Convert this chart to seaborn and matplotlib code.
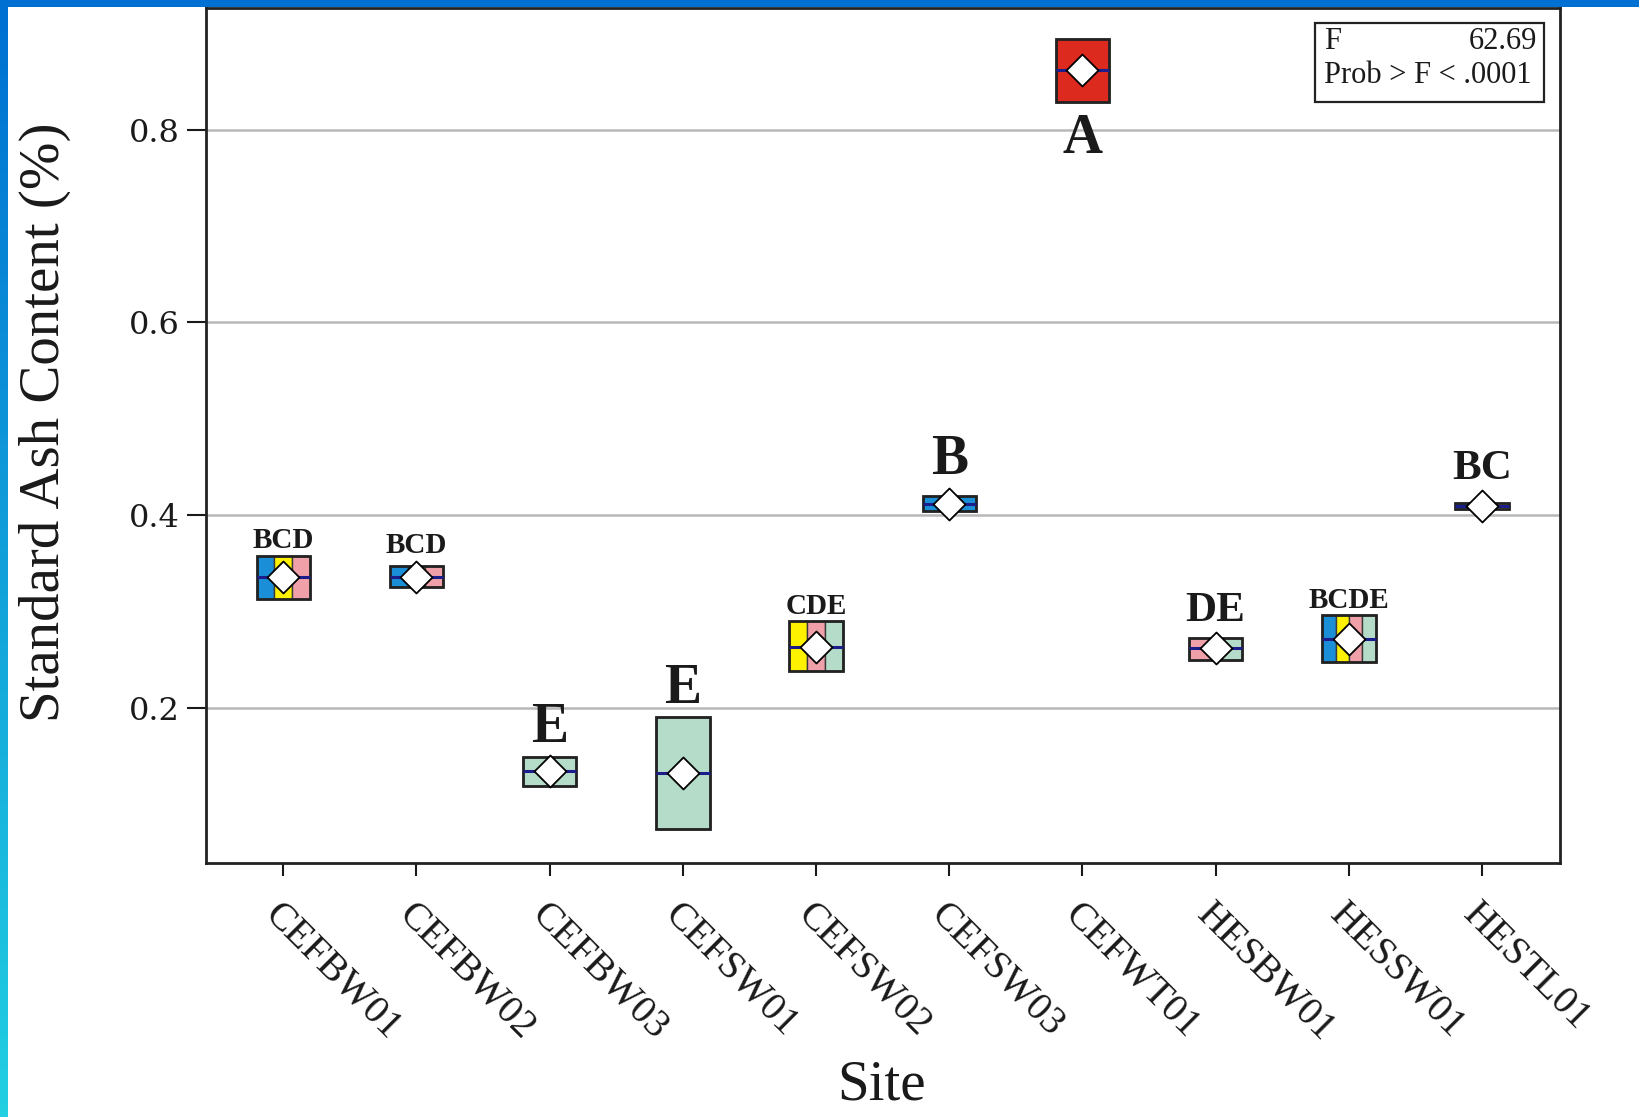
import numpy as np
import pandas as pd
import matplotlib
matplotlib.use("Agg")
import matplotlib.pyplot as plt
import seaborn as sns
from matplotlib.patches import Rectangle
from matplotlib.colors import LinearSegmentedColormap

# ---------------- data ----------------
sites = ["CEFBW01", "CEFBW02", "CEFBW03", "CEFSW01", "CEFSW02",
         "CEFSW03", "CEFWT01", "HESBW01", "HESSW01", "HESTL01"]
means = [0.336, 0.336, 0.134, 0.132, 0.263, 0.412, 0.862, 0.262, 0.272, 0.410]
upper = [0.358, 0.347, 0.149, 0.191, 0.290, 0.4195, 0.894, 0.273, 0.296, 0.413]
lower = [0.313, 0.325, 0.119, 0.074, 0.238, 0.404, 0.829, 0.250, 0.248, 0.4065]
groups = ["BCD", "BCD", "E", "E", "CDE", "B", "A", "DE", "BCDE", "BC"]
yticks = [0.2, 0.4, 0.6, 0.8]
f_label = "F"
f_value = "62.69"
prob_text = "Prob > F < .0001"
x_title = "Site"
y_title = "Standard Ash Content (%)"

group_colors = {"A": "#DC2A1E", "B": "#1A8ED6", "C": "#FFF200",
                "D": "#F0A0A8", "E": "#B4DCC8"}

df = pd.DataFrame({"site": sites, "pos": np.arange(len(sites)),
                   "mean": means, "lo": lower, "hi": upper, "grp": groups})

# ---------------- style ----------------
sns.set_theme(style="white")
plt.rcParams["font.family"] = ["Liberation Serif", "DejaVu Serif"]

W, H, DPI = 1640, 1117, 100
fig = plt.figure(figsize=(W / DPI, H / DPI), dpi=DPI)
fig.patch.set_facecolor("white")
ax = fig.add_axes([206 / W, 1 - 863 / H, (1560 - 206) / W, (863 - 8.4) / H])

ylim = (0.039, 0.926)
ax.set_xlim(-0.58, 9.585)
ax.set_ylim(*ylim)

box_w = 0.40
for _, r in df.iterrows():
    letters = list(r["grp"])
    n = len(letters)
    sw = box_w / n
    for k, L in enumerate(letters):
        ax.bar(r["pos"] - box_w / 2 + k * sw, r["hi"] - r["lo"], bottom=r["lo"],
               width=sw, align="edge", color=group_colors[L],
               edgecolor="#3a3a3a", linewidth=1.0, zorder=3)
    ax.bar(r["pos"], r["hi"] - r["lo"], bottom=r["lo"], width=box_w,
           fill=False, edgecolor="#222222", linewidth=2.0, zorder=4)
    ax.hlines(r["mean"], r["pos"] - box_w / 2, r["pos"] + box_w / 2,
              color="#1c1c8a", linewidth=2.2, zorder=4)

sns.scatterplot(data=df, x="pos", y="mean", marker="D", s=265,
                color="white", edgecolor="black", linewidth=1.3,
                zorder=6, ax=ax, legend=False)

# group letters
ax_h_px = (863 - 8.4)
px_per_unit = ax_h_px / (ylim[1] - ylim[0])
diamond_half = 16.5 / px_per_unit
for _, r in df.iterrows():
    g = r["grp"]
    fs = 40 if len(g) == 1 else (31 if len(g) == 2 else 21)
    top = max(r["hi"], r["mean"] + diamond_half)
    if top + 0.05 > ylim[1]:
        ax.annotate(g, xy=(r["pos"], r["lo"]), xytext=(0, -8),
                    textcoords="offset points", ha="center", va="top",
                    fontsize=fs, fontweight="bold", color="#1a1a1a", zorder=7)
    else:
        ax.annotate(g, xy=(r["pos"], top), xytext=(0, 1),
                    textcoords="offset points", ha="center", va="bottom",
                    fontsize=fs, fontweight="bold", color="#1a1a1a", zorder=7)

# axes styling
ax.set_yticks(yticks)
ax.set_yticklabels([f"{v:.1f}" for v in yticks], family="DejaVu Serif")
ax.set_xticks(df["pos"])
ax.set_xticklabels(sites)
ax.yaxis.grid(True, color="#b8b8b8", linewidth=1.8, zorder=0)
ax.xaxis.grid(False)
ax.set_axisbelow(True)
for s in ax.spines.values():
    s.set_color("#222222")
    s.set_linewidth(2)
ax.tick_params(axis="y", length=14, width=1.5, pad=5, labelsize=23,
               colors="#1a1a1a", left=True)
ax.tick_params(axis="x", length=9, width=1.5, pad=15, labelsize=28.5,
               colors="#1a1a1a", bottom=True)
for lab in ax.get_xticklabels():
    lab.set_rotation(-45)
    lab.set_ha("left")
    lab.set_va("top")
    lab.set_rotation_mode("anchor")

ax.set_xlabel(x_title, fontsize=41, color="#1a1a1a")
ax.set_ylabel(y_title, fontsize=41, color="#1a1a1a")
ax.xaxis.set_label_coords(0.499, -0.230)
ax.yaxis.set_label_coords(-0.100, 0.516)

# F statistic box
ax.add_patch(Rectangle((0.819, 0.891), 0.169, 0.092, transform=ax.transAxes,
                       fill=False, edgecolor="#222222", linewidth=1.6, zorder=8))
ax.text(0.8255, 0.961, f_label, transform=ax.transAxes, ha="left",
        va="center", fontsize=22, color="#1a1a1a")
ax.text(0.983, 0.961, f_value, transform=ax.transAxes, ha="right",
        va="center", fontsize=22, color="#1a1a1a")
ax.text(0.8255, 0.9217, prob_text, transform=ax.transAxes, ha="left",
        va="center", fontsize=22, color="#1a1a1a")

# slide frame decoration
fig.patches.append(Rectangle((0, 1 - 7 / H), 1, 7 / H, transform=fig.transFigure,
                             facecolor="#0070D2", edgecolor="none", zorder=10))
bax = fig.add_axes([0, 0, 8 / W, 1 - 7 / H])
grad = np.linspace(0, 1, 256).reshape(-1, 1)
cmap = LinearSegmentedColormap.from_list("frame", ["#0070D2", "#22D0E2"])
bax.imshow(grad, aspect="auto", cmap=cmap)
bax.set_axis_off()

fig.savefig("out.png", dpi=DPI)
